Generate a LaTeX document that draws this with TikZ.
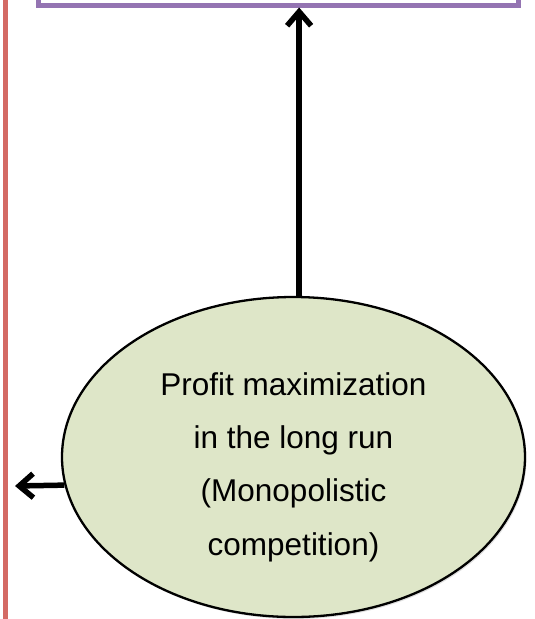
\documentclass[tikz,border=0pt]{standalone}
\usepackage{fontspec}
\setmainfont{Liberation Sans}
\usetikzlibrary{arrows.meta,shapes.geometric,shadows}
\definecolor{framepurple}{RGB}{148,116,178}
\definecolor{edgered}{RGB}{212,106,100}
\definecolor{goalgreen}{RGB}{222,230,200}
\begin{document}
\begin{tikzpicture}[x=1pt,y=-1pt,
goal/.style={ellipse,draw=black,line width=2.3pt,fill=goalgreen,minimum width=463pt,minimum height=320pt,inner sep=0pt,align=center,
  font=\fontsize{31.5}{53.3}\selectfont,
  drop shadow={opacity=0.25,shadow xshift=1.5pt,shadow yshift=-2pt}},
frame/.style={rectangle,draw=framepurple,line width=5pt,minimum width=480pt,minimum height=60pt},
link/.style={line width=5.5pt,-{Straight Barb[length=14pt,width=24pt]}} ]
\useasboundingbox (0,0) rectangle (535,619);
\clip (0,0) rectangle (535,619);
\draw[edgered,line width=5pt] (5.5,0) -- (5.5,619);
\node[frame] (box) at (278,-25) {};
\node[goal] (goal) at (293.5,457) {\rule{0pt}{43pt}Profit maximization\\in the long run\\(Monopolistic\\competition)};
\coordinate (out) at (15,486);
\draw[link] (goal.88) -- (goal.88 |- box.south);
\draw[link] (goal.187) -- (out);
\end{tikzpicture}
\end{document}
